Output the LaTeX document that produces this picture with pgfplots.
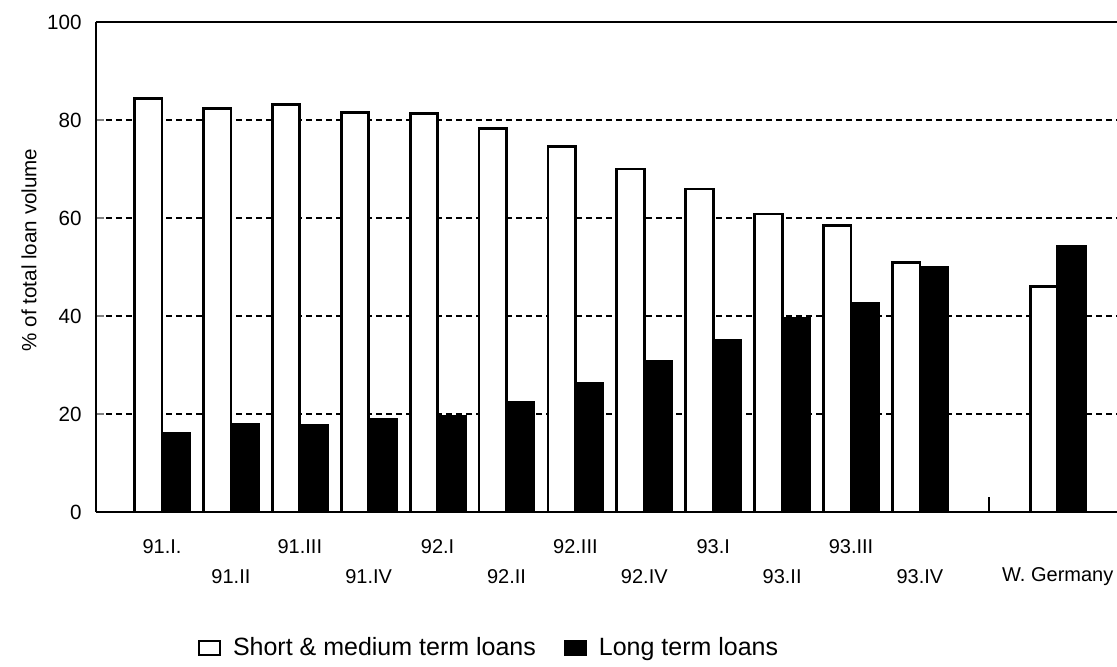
\documentclass[border=0pt]{standalone}
\usepackage{fontspec}
\setmainfont{Liberation Sans}
\usepackage{pgfplots}
\pgfplotsset{compat=1.18}
\begin{document}
\begin{tikzpicture}
\begin{axis}[
  scale only axis,
  width=510.5pt, height=245pt,
  xmin=-0.958, xmax=13.86,
  ymin=0, ymax=100,
  axis x line*=box, axis y line*=left,
  axis line style={line width=1.4pt, -},
  ytick={0,20,40,60,80,100},
  ymajorgrids,
  major grid style={black, densely dashed, line width=0.9pt},
  /pgf/number format/assume math mode=true,
  yticklabel style={anchor=east, inner sep=0pt, xshift=-7pt, font=\fontsize{10.3}{12}\selectfont},
  ytick style={line width=1pt},
  tick align=inside,
  major tick length=4pt,
  xtick={0,2,4,6,8,10},
  xticklabels={91.I.,91.III,92.I,92.III,93.I,93.III},
  xtick style={draw=none},
  xticklabel style={anchor=center, yshift=-17.5pt, inner sep=0pt, font=\fontsize{10}{12}\selectfont},
  extra x ticks={1,3,5,7,9,11,13},
  extra x tick labels={91.II,91.IV,92.II,92.IV,93.II,93.IV,W. Germany},
  extra x tick style={xticklabel style={yshift=-15pt}, grid=none, tick style={draw=none}},
  ylabel={\% of total loan volume},
  every axis y label/.style={at={(rel axis cs:0,0.535)}, xshift=-33.5pt, rotate=90, anchor=center, font=\fontsize{10.3}{12}\selectfont},
  legend style={at={(rel axis cs:0.386,-0.278)}, anchor=center, draw=none, fill=none,
    legend columns=2, font=\fontsize{12.5}{15}\selectfont,
    /tikz/every odd column/.append style={column sep=4pt},
    /tikz/every even column/.append style={column sep=12pt}},
  legend image code/.code={\draw[#1, line width=1pt] (0pt,-3.6pt) rectangle (10.5pt,3.6pt);},
]
\coordinate (bl) at (rel axis cs:0,0);
\addplot[ybar, bar width=13.75pt, bar shift=-6.875pt, fill=white, draw=black, line width=1.4pt]
 coordinates {(0,84.4) (1,82.4) (2,83.2) (3,81.6) (4,81.4) (5,78.3) (6,74.6) (7,70.0) (8,65.9) (9,60.8) (10,58.4) (11,51.0) (13,46.1)};
\addlegendentry{Short \& medium term loans}
\addplot[ybar, bar width=13.75pt, bar shift=6.875pt, fill=black, draw=black, line width=1.4pt]
 coordinates {(0,16.0) (1,17.9) (2,17.6) (3,18.9) (4,19.5) (5,22.3) (6,26.3) (7,30.7) (8,35.0) (9,39.5) (10,42.6) (11,49.9) (13,54.3)};
\addlegendentry{Long term loans}
\addplot[ycomb, mark=none, line width=1.3pt, forget plot] coordinates {(12,3)};
\end{axis}
\pgfresetboundingbox
\path (bl) ++(-48pt,-77pt) rectangle ++(558.5pt,333pt);
\end{tikzpicture}
\end{document}
